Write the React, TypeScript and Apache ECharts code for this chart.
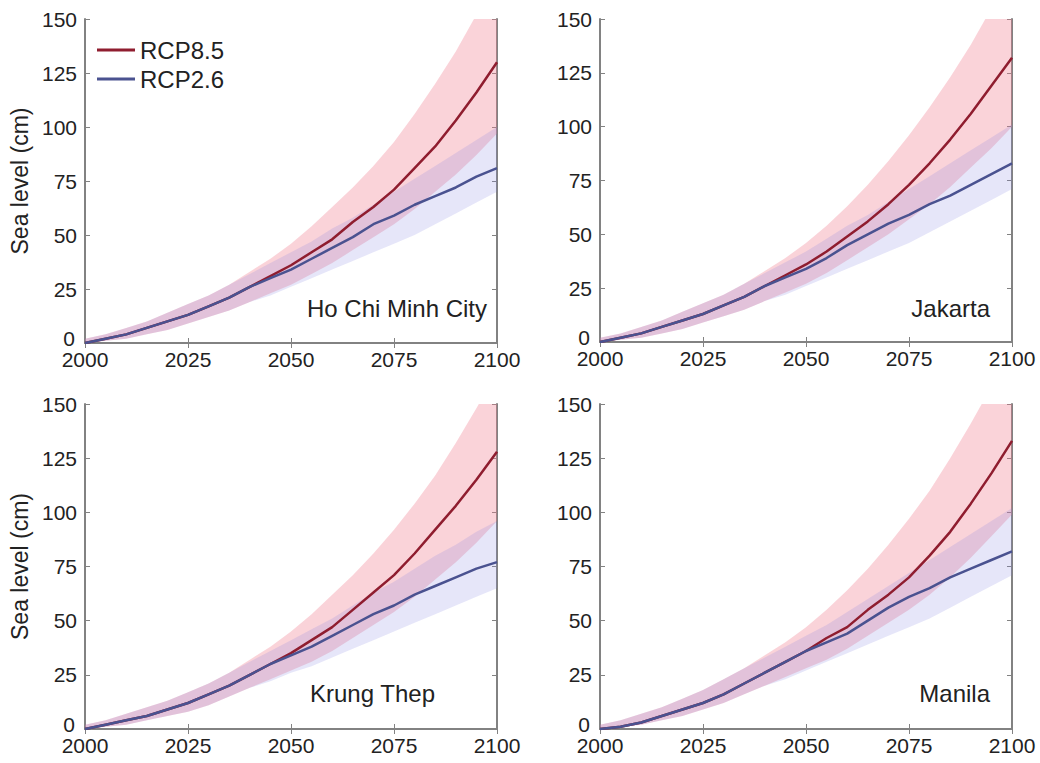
import React, { useEffect, useRef } from "react";
import * as echarts from "echarts";

const years = [2000, 2005, 2010, 2015, 2020, 2025, 2030, 2035, 2040, 2045, 2050, 2055, 2060, 2065, 2070, 2075, 2080, 2085, 2090, 2095, 2100];
const xTicks = [2000, 2025, 2050, 2075, 2100];
const yTicks = [0, 25, 50, 75, 100, 125, 150];

// Ho Chi Minh City
const hcmRcp85 = [0, 2, 4, 7, 10, 13, 17, 21, 26, 31, 36, 42, 48, 56, 63, 71, 81, 91, 103, 116, 130];
const hcmRcp26 = [0, 2, 4, 7, 10, 13, 17, 21, 26, 30, 34, 39, 44, 49, 55, 59, 64, 68, 72, 77, 81];
const hcmRcp85Lo = [0, 1, 2, 4, 6, 9, 12, 15, 19, 23, 27, 32, 37, 43, 49, 55, 62, 70, 78, 87, 97];
const hcmRcp85Hi = [2, 4, 7, 10, 14, 18, 22, 27, 33, 39, 46, 54, 63, 72, 82, 93, 106, 120, 135, 152, 170];
const hcmRcp26Lo = [0, 1, 2, 4, 6, 9, 12, 15, 19, 22, 26, 30, 34, 38, 42, 46, 50, 55, 60, 65, 70];
const hcmRcp26Hi = [2, 4, 7, 10, 14, 18, 22, 27, 32, 37, 42, 47, 53, 58, 64, 70, 76, 82, 88, 94, 100];

// Jakarta
const jktRcp85 = [0, 2, 4, 7, 10, 13, 17, 21, 26, 31, 36, 42, 49, 56, 64, 73, 83, 94, 106, 119, 132];
const jktRcp26 = [0, 2, 4, 7, 10, 13, 17, 21, 26, 30, 34, 39, 45, 50, 55, 59, 64, 68, 73, 78, 83];
const jktRcp85Lo = [0, 1, 2, 4, 6, 9, 12, 15, 19, 23, 27, 32, 38, 44, 50, 57, 64, 72, 81, 90, 100];
const jktRcp85Hi = [2, 4, 7, 10, 14, 18, 22, 27, 33, 39, 46, 54, 63, 73, 84, 96, 109, 123, 138, 155, 172];
const jktRcp26Lo = [0, 1, 2, 4, 6, 9, 12, 15, 19, 22, 26, 30, 34, 38, 42, 46, 51, 56, 61, 66, 71];
const jktRcp26Hi = [2, 4, 7, 10, 14, 18, 22, 27, 32, 37, 42, 48, 54, 59, 65, 71, 77, 83, 89, 95, 101];

// Krung Thep
const bkkRcp85 = [0, 2, 4, 6, 9, 12, 16, 20, 25, 30, 35, 41, 47, 55, 63, 71, 81, 92, 103, 115, 128];
const bkkRcp26 = [0, 2, 4, 6, 9, 12, 16, 20, 25, 30, 34, 38, 43, 48, 53, 57, 62, 66, 70, 74, 77];
const bkkRcp85Lo = [0, 1, 2, 4, 6, 8, 11, 15, 19, 23, 27, 31, 36, 42, 48, 54, 61, 69, 77, 86, 96];
const bkkRcp85Hi = [2, 4, 7, 10, 13, 17, 21, 26, 32, 38, 45, 53, 62, 71, 81, 92, 104, 117, 132, 148, 165];
const bkkRcp26Lo = [0, 1, 2, 4, 6, 8, 11, 15, 19, 22, 26, 29, 33, 37, 41, 45, 49, 53, 57, 61, 65];
const bkkRcp26Hi = [2, 4, 7, 10, 13, 17, 21, 26, 31, 36, 41, 46, 51, 57, 63, 68, 74, 80, 85, 91, 96];

// Manila
const mnlRcp85 = [0, 1, 3, 6, 9, 12, 16, 21, 26, 31, 36, 42, 47, 55, 62, 70, 80, 91, 104, 118, 133];
const mnlRcp26 = [0, 1, 3, 6, 9, 12, 16, 21, 26, 31, 36, 40, 44, 50, 56, 61, 65, 70, 74, 78, 82];
const mnlRcp85Lo = [0, 1, 2, 4, 6, 9, 12, 16, 20, 24, 28, 32, 37, 43, 49, 55, 62, 70, 79, 89, 99];
const mnlRcp85Hi = [2, 4, 7, 10, 14, 18, 23, 28, 34, 40, 47, 55, 64, 74, 85, 97, 110, 125, 141, 158, 176];
const mnlRcp26Lo = [0, 1, 2, 4, 6, 9, 12, 16, 20, 23, 27, 31, 35, 39, 43, 47, 51, 56, 61, 66, 71];
const mnlRcp26Hi = [2, 4, 7, 10, 14, 18, 23, 28, 33, 38, 43, 48, 54, 60, 66, 72, 78, 84, 90, 96, 102];

const cities = [
  { name: "Ho Chi Minh City", r85: hcmRcp85, r26: hcmRcp26, lo85: hcmRcp85Lo, hi85: hcmRcp85Hi, lo26: hcmRcp26Lo, hi26: hcmRcp26Hi },
  { name: "Jakarta", r85: jktRcp85, r26: jktRcp26, lo85: jktRcp85Lo, hi85: jktRcp85Hi, lo26: jktRcp26Lo, hi26: jktRcp26Hi },
  { name: "Krung Thep", r85: bkkRcp85, r26: bkkRcp26, lo85: bkkRcp85Lo, hi85: bkkRcp85Hi, lo26: bkkRcp26Lo, hi26: bkkRcp26Hi },
  { name: "Manila", r85: mnlRcp85, r26: mnlRcp26, lo85: mnlRcp85Lo, hi85: mnlRcp85Hi, lo26: mnlRcp26Lo, hi26: mnlRcp26Hi },
];

const grids = [
  { left: 85, top: 19, width: 412, height: 324 },
  { left: 600, top: 19, width: 412, height: 323 },
  { left: 85, top: 404, width: 412, height: 325 },
  { left: 600, top: 404, width: 412, height: 325 },
];

const labelPos = [
  { x: 487, y: 308 },
  { x: 990, y: 308 },
  { x: 435, y: 693 },
  { x: 990, y: 693 },
];

const FONT = "'Liberation Sans', Arial, Helvetica, sans-serif";
const AXIS_COLOR = "#828282";
const TEXT_COLOR = "#222";
const RED = "#8f1d2f";
const BLUE = "#4a5290";
const RED_BAND = "rgba(240,125,145,0.34)";
const BLUE_BAND = "rgba(130,130,225,0.2)";

function pairs(vals: number[]) {
  return years.map((y, i) => [y, vals[i]]);
}

function bandSeries(i: number, lo: number[], hi: number[], color: string) {
  return {
    type: "custom",
    xAxisIndex: i * 2,
    yAxisIndex: i * 2,
    silent: true,
    data: years.map((y, k) => [y, lo[k], hi[k]]),
    encode: { x: 0, y: [1, 2] },
    renderItem: (params: any, api: any) => {
      if (params.dataIndex !== 0) return null;
      const top = years.map((y, k) => api.coord([y, hi[k]]));
      const bot = years.map((y, k) => api.coord([y, lo[k]])).reverse();
      const cs = params.coordSys;
      return {
        type: "polygon",
        shape: { points: top.concat(bot) },
        style: { fill: color, stroke: "none" },
        clipPath: { type: "rect", shape: { x: cs.x, y: cs.y, width: cs.width, height: cs.height } },
      };
    },
  };
}

export default function App() {
  const ref = useRef<HTMLDivElement>(null);
  useEffect(() => {
    if (!ref.current) return;
    const chart = echarts.init(ref.current, undefined, { renderer: "svg" });
    const xAxis: any[] = [];
    const yAxis: any[] = [];
    const series: any[] = [];
    const graphic: any[] = [];

    grids.forEach((g, i) => {
      const axisLine = { show: true, lineStyle: { color: AXIS_COLOR, width: 2 } };
      const tick = { show: true, inside: true, length: 5, lineStyle: { color: AXIS_COLOR, width: 1 } };
      xAxis.push({
        type: "value", gridIndex: i, min: xTicks[0], max: xTicks[xTicks.length - 1], interval: 25, position: "bottom",
        axisLine, axisTick: tick, splitLine: { show: false },
        axisLabel: { color: TEXT_COLOR, fontSize: 21, fontFamily: FONT, margin: 6, formatter: (v: number) => String(v) },
      });
      xAxis.push({
        type: "value", gridIndex: i, min: xTicks[0], max: xTicks[xTicks.length - 1], interval: 25, position: "top",
        axisLine, axisTick: tick, splitLine: { show: false }, axisLabel: { show: false },
      });
      yAxis.push({
        type: "value", gridIndex: i, min: yTicks[0], max: yTicks[yTicks.length - 1], interval: 25, position: "left",
        axisLine, axisTick: tick, splitLine: { show: false },
        axisLabel: {
          color: TEXT_COLOR, fontSize: 21, fontFamily: FONT, margin: 8,
          formatter: (v: number) => (v === 0 ? "{z|0}" : String(v)),
          rich: { z: { color: TEXT_COLOR, fontSize: 21, fontFamily: FONT, padding: [0, 2, 10, 0] } },
        },
        name: i % 2 === 0 ? "Sea level (cm)" : "",
        nameLocation: "middle", nameGap: 54,
        nameTextStyle: { color: TEXT_COLOR, fontSize: 23, fontFamily: FONT },
      });
      yAxis.push({
        type: "value", gridIndex: i, min: yTicks[0], max: yTicks[yTicks.length - 1], interval: 25, position: "right",
        axisLine, axisTick: tick, splitLine: { show: false }, axisLabel: { show: false },
      });
      const c = cities[i];
      series.push(bandSeries(i, c.lo85, c.hi85, RED_BAND));
      series.push(bandSeries(i, c.lo26, c.hi26, BLUE_BAND));
      const base = { type: "line", xAxisIndex: i * 2, yAxisIndex: i * 2, showSymbol: false, symbol: "none", silent: true, clip: true };
      series.push({ ...base, name: "RCP8.5", data: pairs(c.r85), color: RED, itemStyle: { color: RED }, lineStyle: { color: RED, width: 2.5 } });
      series.push({ ...base, name: "RCP2.6", data: pairs(c.r26), color: BLUE, itemStyle: { color: BLUE }, lineStyle: { color: BLUE, width: 2.5 } });

      const lp = labelPos[i];
      graphic.push({
        type: "text", x: lp.x, y: lp.y,
        style: { text: c.name, fill: TEXT_COLOR, font: `24px ${FONT}`, textAlign: "right", textVerticalAlign: "middle" },
      });
    });

    chart.setOption({
      animation: false,
      backgroundColor: "#ffffff",
      grid: grids.map((g) => ({ ...g, containLabel: false })),
      xAxis, yAxis, series, graphic,
      legend: {
        data: ["RCP8.5", "RCP2.6"],
        orient: "vertical", left: 92, top: 33,
        itemWidth: 38, itemHeight: 3, itemGap: 5, icon: "rect",
        textStyle: { color: TEXT_COLOR, fontSize: 24, fontFamily: FONT },
        selectedMode: false,
      },
    });
    return () => chart.dispose();
  }, []);
  return (
    <div style={{ position: "absolute", left: 0, top: 0, width: 1040, height: 763, background: "#fff" }}>
      <div ref={ref} style={{ width: 1040, height: 763 }} />
    </div>
  );
}
